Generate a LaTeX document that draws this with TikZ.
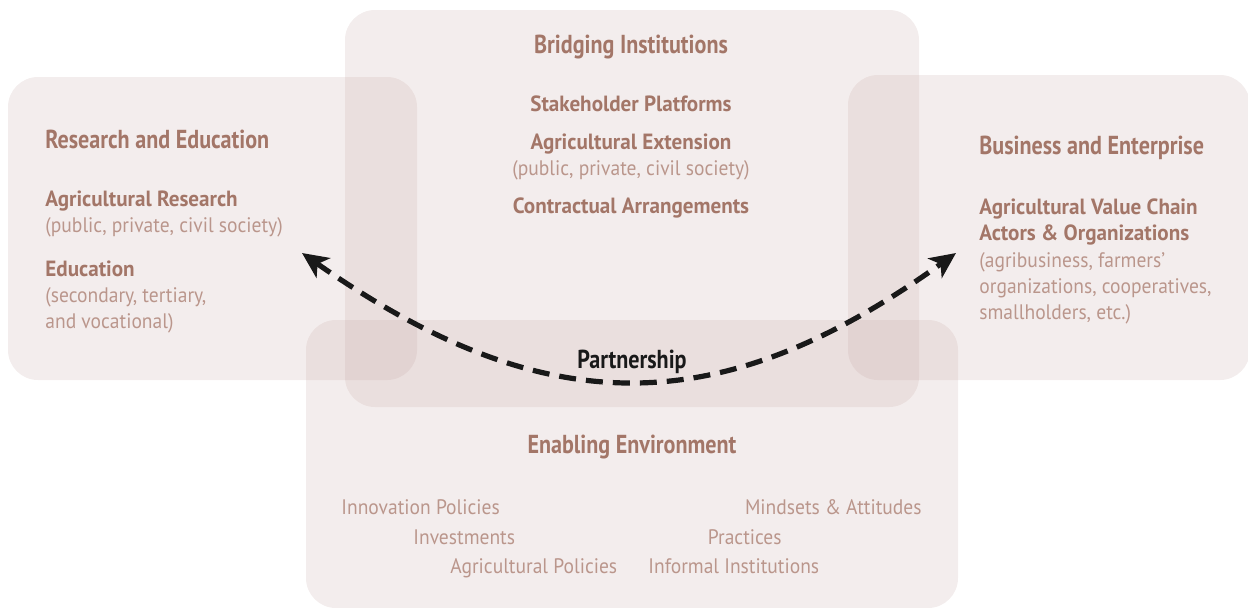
\documentclass[tikz,border=0pt]{standalone}
\usepackage{fontspec}
\setmainfont{PT Sans}
\newfontfamily\headfont[FakeStretch=0.85]{PT Sans}
\newfontfamily\subfont[FakeStretch=0.96]{PT Sans}
\newfontfamily\notefont[FakeStretch=0.93]{PT Sans}
\usetikzlibrary{arrows.meta}
\definecolor{boxfill}{RGB}{196,165,163}
\definecolor{headbrown}{RGB}{163,118,104}
\definecolor{notebrown}{RGB}{186,150,140}
\tikzset{
	panel/.style={fill=boxfill, fill opacity=0.2, rounded corners=15pt},
	heading/.style={text=headbrown, font=\headfont\bfseries\fontsize{13}{15}\selectfont, inner sep=0pt},
	subhead/.style={text=headbrown, font=\subfont\bfseries\fontsize{11}{13}\selectfont, inner sep=0pt},
	note/.style={text=notebrown, font=\notefont\fontsize{10.5}{12}\selectfont, inner sep=0pt},
	partner/.style={line width=2.6pt, dash pattern=on 8.5pt off 5pt, black!90,
		{Stealth[length=13pt, width=12pt, inset=3.5pt]}-{Stealth[length=13pt, width=12pt, inset=3.5pt]}}
}

\begin{document}
\begin{tikzpicture}[x=0.5pt, y=-0.5pt]
	\useasboundingbox (0,0) rectangle (1248,607);
	\fill[panel] (8,77) rectangle (417,380);
	\fill[panel] (345,10) rectangle (919,407);
	\fill[panel] (848,75) rectangle (1250,380);
	\fill[panel] (306,320) rectangle (958,608);

	\node[heading, anchor=base west] (research) at (45,148) {Research and Education};
	\node[subhead, anchor=base west] (agres) at (45,206) {Agricultural Research};
	\node[note, anchor=base west] (agresnote) at (45,232) {(public, private, civil society)};
	\node[subhead, anchor=base west] (edu) at (45,276) {Education};
	\node[note, anchor=base west] (edunote1) at (45,302) {(secondary, tertiary,};
	\node[note, anchor=base west] (edunote2) at (45,328) {and vocational)};

	\node[heading, anchor=base] (bridging) at (631,53) {Bridging Institutions};
	\node[subhead, anchor=base] (stake) at (631,111) {Stakeholder Platforms};
	\node[subhead, anchor=base] (ext) at (631,149) {Agricultural Extension};
	\node[note, anchor=base] (extnote) at (631,175) {(public, private, civil society)};
	\node[subhead, anchor=base] (contract) at (631,213) {Contractual Arrangements};

	\node[heading, anchor=base west] (business) at (979,154) {Business and Enterprise};
	\node[subhead, anchor=base west] (chain1) at (979,214) {Agricultural Value Chain};
	\node[subhead, anchor=base west] (chain2) at (979,240) {Actors \& Organizations};
	\node[note, anchor=base west] (chainnote1) at (979,267) {(agribusiness, farmers’};
	\node[note, anchor=base west] (chainnote2) at (979,293) {organizations, cooperatives,};
	\node[note, anchor=base west] (chainnote3) at (979,319) {smallholders, etc.)};

	\node[heading, anchor=base] (enabling) at (632,453) {Enabling Environment};
	\node[note, anchor=base west] (innov) at (341,514) {Innovation Policies};
	\node[note, anchor=base east] (mind) at (922,514) {Mindsets \& Attitudes};
	\node[note, anchor=base west] (invest) at (413,544) {Investments};
	\node[note, anchor=base east] (pract) at (782,544) {Practices};
	\node[note, anchor=base west] (agpol) at (450,573) {Agricultural Policies};
	\node[note, anchor=base west] (informal) at (648,573) {Informal Institutions};

	\coordinate (lefttip) at (302,253);
	\coordinate (righttip) at (956,253);
	\draw[partner] (lefttip) .. controls (545,423) and (719,423) .. (righttip);
	\node[heading, text=black!90, anchor=base] (partnership) at (632,368) {Partnership};
\end{tikzpicture}
\end{document}
